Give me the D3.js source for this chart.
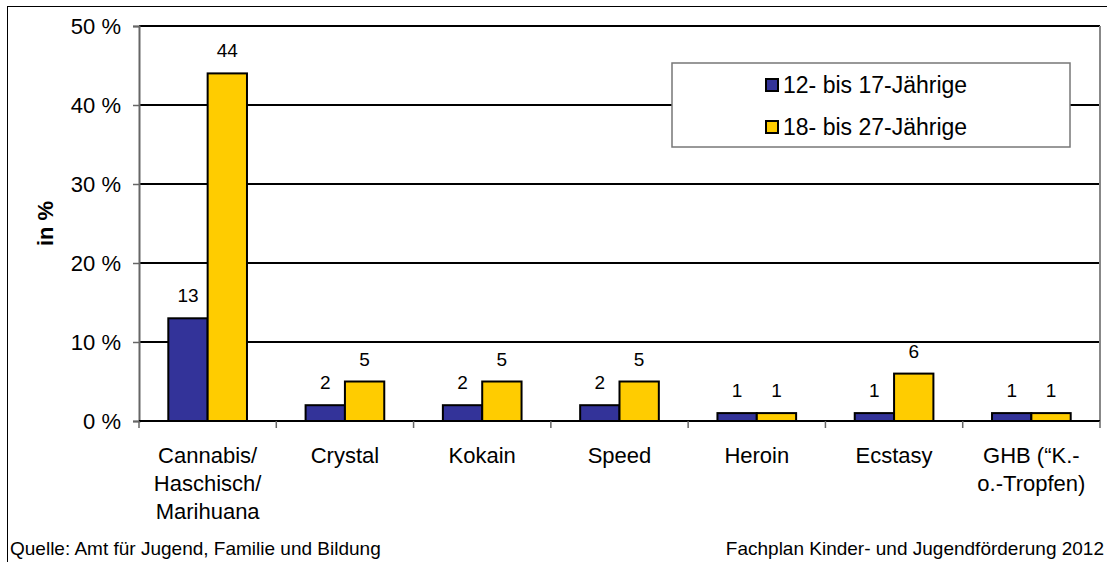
<!DOCTYPE html>
<html lang="de">
<head>
  <meta charset="utf-8" />
  <title>Drogenerfahrung nach Altersgruppe</title>
  <script src="https://d3js.org/d3.v7.min.js"></script>
  <style>
    body { margin: 0; background: #fff; }
    svg { display: block; font-family: "Liberation Sans", Arial, sans-serif; }
  </style>
</head>
<body>
  <svg id="chart" width="1107" height="562"></svg>
  <script>
    // data
    const categories = [
      ["Cannabis/", "Haschisch/", "Marihuana"],
      ["Crystal"],
      ["Kokain"],
      ["Speed"],
      ["Heroin"],
      ["Ecstasy"],
      ["GHB (\u201cK.-", "o.-Tropfen)"]
    ];
    const seriesNames = ["12- bis 17-J\u00e4hrige", "18- bis 27-J\u00e4hrige"];
    const youngValues = [13, 2, 2, 2, 1, 1, 1];
    const olderValues = [44, 5, 5, 5, 1, 6, 1];
    const yTicks = [0, 10, 20, 30, 40, 50];
    const colors = ["#333399", "#ffcc00"];

    const svg = d3.select("#chart");
    const plotL = 139, plotR = 1100, plotT = 26, plotB = 421;

    // outer frame
    svg.append("rect")
      .attr("x", 7.5).attr("y", 6.5)
      .attr("width", 1120).attr("height", 600)
      .attr("fill", "none").attr("stroke", "#000").attr("stroke-width", 1);

    const x = d3.scaleBand()
      .domain(d3.range(categories.length))
      .range([plotL, plotR]);
    const inner = d3.scaleBand()
      .domain([0, 1])
      .range([0, x.bandwidth()])
      .paddingOuter(0.745)
      .paddingInner(0);
    const y = d3.scaleLinear().domain([0, 50]).range([plotB, plotT]);

    // gridlines
    svg.append("g").selectAll("line")
      .data(yTicks.filter(d => d > 0))
      .join("line")
      .attr("x1", plotL).attr("x2", plotR)
      .attr("y1", d => y(d)).attr("y2", d => y(d))
      .attr("stroke", "#000").attr("stroke-width", 2);

    // right border of plot area
    svg.append("line")
      .attr("x1", plotR).attr("x2", plotR)
      .attr("y1", plotT).attr("y2", plotB)
      .attr("stroke", "#888").attr("stroke-width", 2);

    // y axis
    const yAxis = svg.append("g")
      .attr("transform", `translate(${plotL},0)`)
      .call(d3.axisLeft(y).tickValues(yTicks).tickSize(6).tickPadding(12)
        .tickFormat(d => d + " %"));
    yAxis.select(".domain").attr("stroke", "#666").attr("stroke-width", 2);
    yAxis.selectAll(".tick line").attr("stroke", "#666").attr("stroke-width", 1.5);
    yAxis.selectAll(".tick text")
      .attr("font-size", 22).attr("fill", "#000")
      .attr("font-family", "Liberation Sans, Arial, sans-serif");

    svg.append("text")
      .attr("transform", `translate(53,${(plotT + plotB) / 2}) rotate(-90)`)
      .attr("text-anchor", "middle")
      .attr("font-size", 22).attr("font-weight", "bold")
      .text("in %");

    // bars
    const data = categories.map((c, i) => ({ i, vals: [youngValues[i], olderValues[i]] }));
    const groups = svg.append("g").selectAll("g")
      .data(data)
      .join("g")
      .attr("transform", d => `translate(${x(d.i)},0)`);

    groups.selectAll("rect")
      .data(d => d.vals.map((v, s) => ({ v, s })))
      .join("rect")
      .attr("x", d => inner(d.s))
      .attr("width", inner.bandwidth())
      .attr("y", d => y(d.v))
      .attr("height", d => y(0) - y(d.v))
      .attr("fill", d => colors[d.s])
      .attr("stroke", "#000").attr("stroke-width", 2);

    groups.selectAll("text.val")
      .data(d => d.vals.map((v, s) => ({ v, s })))
      .join("text")
      .attr("class", "val")
      .attr("x", d => inner(d.s) + inner.bandwidth() / 2)
      .attr("y", d => y(d.v) - 16)
      .attr("text-anchor", "middle")
      .attr("font-size", 19)
      .text(d => d.v);

    // x axis
    svg.append("line")
      .attr("x1", plotL).attr("x2", plotR)
      .attr("y1", plotB).attr("y2", plotB)
      .attr("stroke", "#000").attr("stroke-width", 2);
    svg.append("g").selectAll("line")
      .data(d3.range(categories.length + 1))
      .join("line")
      .attr("x1", d => plotL + d * x.step()).attr("x2", d => plotL + d * x.step())
      .attr("y1", plotB).attr("y2", plotB + 7)
      .attr("stroke", "#666").attr("stroke-width", 1.5);

    const xl = svg.append("g").selectAll("text")
      .data(categories)
      .join("text")
      .attr("x", (d, i) => x(i) + x.bandwidth() / 2)
      .attr("y", 463)
      .attr("text-anchor", "middle")
      .attr("font-size", 22);
    xl.selectAll("tspan")
      .data(d => d)
      .join("tspan")
      .attr("x", function () { return this.parentNode.getAttribute("x"); })
      .attr("dy", (d, i) => i === 0 ? 0 : 28)
      .text(d => d);

    // legend
    const lg = svg.append("g");
    lg.append("rect")
      .attr("x", 672).attr("y", 63).attr("width", 398).attr("height", 84)
      .attr("fill", "#fff").attr("stroke", "#777").attr("stroke-width", 1.5);
    const items = lg.selectAll("g")
      .data(seriesNames)
      .join("g")
      .attr("transform", (d, i) => `translate(766,${79 + i * 42})`);
    items.append("rect")
      .attr("width", 12).attr("height", 12)
      .attr("fill", (d, i) => colors[i])
      .attr("stroke", "#000").attr("stroke-width", 2);
    items.append("text")
      .attr("x", 17).attr("y", 14)
      .attr("font-size", 23)
      .text(d => d);

    // footer
    svg.append("text")
      .attr("x", 10).attr("y", 555)
      .attr("font-size", 19)
      .text("Quelle: Amt f\u00fcr Jugend, Familie und Bildung");
    svg.append("text")
      .attr("x", 1104).attr("y", 555)
      .attr("text-anchor", "end")
      .attr("font-size", 19)
      .text("Fachplan Kinder- und Jugendf\u00f6rderung 2012");
  </script>
</body>
</html>
